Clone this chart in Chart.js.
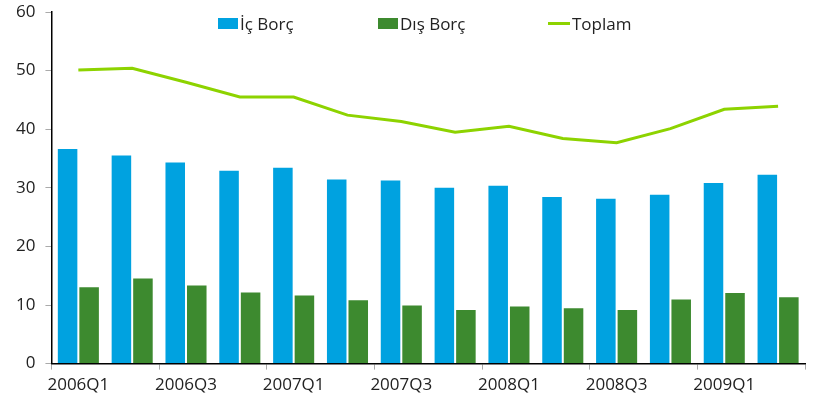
<!DOCTYPE html>
<html>
<head>
<meta charset="utf-8">
<script src="https://cdn.jsdelivr.net/npm/chart.js@4"></script>
<style>
    body { margin: 0; background: #fff; }
    #wrap { position: relative; width: 817px; height: 410px; }
    #legend { position: absolute; top: 12px; left: 0; width: 817px; height: 22px; font-family: 'Open Sans', sans-serif; font-size: 17px; color: #222; }
    .item { position: absolute; top: 0; display: flex; align-items: center; height: 22px; }
    .box { width: 20px; height: 11px; margin-right: 2px; }
    .line { width: 22px; height: 3px; margin-right: 2px; }
</style>
</head>
<body>
<div id="wrap">
    <canvas id="chart" width="817" height="410"></canvas>
    <div id="legend">
        <div class="item" style="left:218px"><span class="box" style="background:#00A2E0"></span>İç Borç</div>
        <div class="item" style="left:378px"><span class="box" style="background:#3D8A2F"></span>Dış Borç</div>
        <div class="item" style="left:548px"><span class="line" style="background:#8DD300"></span>Toplam</div>
    </div>
</div>
<script>
const quarters = ['2006Q1', '2006Q2', '2006Q3', '2006Q4', '2007Q1', '2007Q2', '2007Q3', '2007Q4',
    '2008Q1', '2008Q2', '2008Q3', '2008Q4', '2009Q1', '2009Q2'];
const icBorc = [36.8, 35.7, 34.5, 33.1, 33.6, 31.6, 31.4, 30.2, 30.5, 28.6, 28.3, 29.0, 31.0, 32.4];
const disBorc = [13.2, 14.7, 13.5, 12.3, 11.8, 11.0, 10.1, 9.3, 9.9, 9.6, 9.3, 11.1, 12.2, 11.5];
const toplam = [50.1, 50.4, 48.0, 45.5, 45.5, 42.4, 41.3, 39.5, 40.5, 38.4, 37.7, 40.1, 43.4, 43.9];

const font = { family: "'Open Sans', sans-serif", size: 17 };

new Chart(document.getElementById('chart'), {
    type: 'bar',
    data: {
        labels: quarters,
        datasets: [
            {
                type: 'line',
                label: 'Toplam',
                data: toplam,
                borderColor: '#8DD300',
                borderWidth: 3,
                pointRadius: 0,
                tension: 0,
                order: 0
            },
            {
                label: 'İç Borç',
                data: icBorc,
                backgroundColor: '#00A2E0',
                borderColor: 'rgba(255,255,255,0.8)',
                borderWidth: 1,
                categoryPercentage: 0.8,
                barPercentage: 1,
                order: 1
            },
            {
                label: 'Dış Borç',
                data: disBorc,
                backgroundColor: '#3D8A2F',
                borderColor: 'rgba(255,255,255,0.8)',
                borderWidth: 1,
                categoryPercentage: 0.8,
                barPercentage: 1,
                order: 1
            }
        ]
    },
    options: {
        responsive: false,
        animation: false,
        layout: { padding: { left: 6, right: 12, top: 12, bottom: 10 } },
        plugins: {
            legend: { display: false },
            tooltip: { enabled: false }
        },
        scales: {
            x: {
                grid: {
                    drawOnChartArea: false,
                    tickLength: 6,
                    tickColor: (ctx) => ctx.index % 2 ? 'transparent' : '#aaa'
                },
                border: { display: true, color: '#000', width: 1.5 },
                ticks: {
                    autoSkip: false,
                    maxRotation: 0,
                    color: '#222',
                    font: font,
                    padding: 5,
                    callback: function (value, index) {
                        return index % 2 ? '' : this.getLabelForValue(value);
                    }
                }
            },
            y: {
                min: 0,
                max: 60,
                afterFit: (scale) => { scale.paddingTop = 0; },
                grid: { drawOnChartArea: false, tickLength: 6, tickColor: '#aaa' },
                border: { display: true, color: '#000', width: 1.5 },
                ticks: { stepSize: 10, color: '#222', font: font, padding: 10 }
            }
        }
    }
});
</script>
</body>
</html>
